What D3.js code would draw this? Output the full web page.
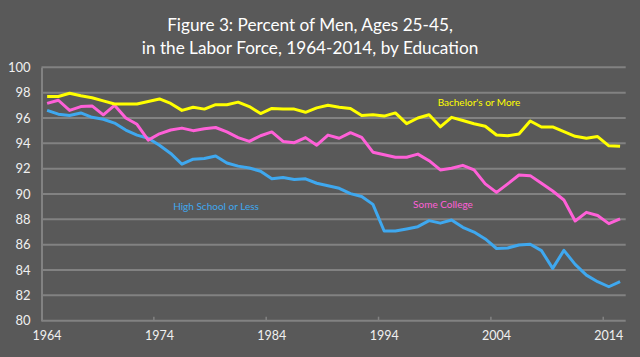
<!DOCTYPE html>
<html>
<head>
<meta charset="utf-8">
<script src="https://cdn.jsdelivr.net/npm/d3@7"></script>
<style>
html,body{margin:0;padding:0;background:#595959;}
svg{display:block;}
</style>
</head>
<body>
<svg id="chart" width="640" height="357"></svg>
<script>
const years = d3.range(1964, 2016);
const tickYears = [1964, 1974, 1984, 1994, 2004, 2014];
const yTicks = [80, 82, 84, 86, 88, 90, 92, 94, 96, 98, 100];
const titleLines = ["Figure 3: Percent of Men, Ages 25-45,", "in the Labor Force, 1964-2014, by Education"];

const bachelors = [97.7,97.7,97.95,97.75,97.6,97.35,97.1,97.1,97.1,97.3,97.5,97.15,96.6,96.85,96.7,97.05,97.05,97.25,96.9,96.35,96.75,96.7,96.7,96.45,96.8,97.0,96.85,96.75,96.2,96.25,96.15,96.4,95.55,96.0,96.25,95.3,96.05,95.8,95.55,95.35,94.66,94.6,94.74,95.76,95.29,95.29,94.92,94.55,94.4,94.53,93.8,93.76];
const someCollege = [97.15,97.4,96.6,96.9,96.95,96.25,97.0,96.0,95.5,94.25,94.75,95.05,95.2,95.0,95.15,95.25,94.9,94.45,94.15,94.6,94.9,94.15,94.05,94.45,93.85,94.65,94.4,94.84,94.47,93.3,93.1,92.9,92.9,93.15,92.63,91.9,92.03,92.26,91.9,90.8,90.13,90.8,91.5,91.45,90.84,90.24,89.53,87.87,88.55,88.3,87.66,88.03];
const highSchool = [96.6,96.3,96.2,96.4,96.05,95.9,95.6,95.05,94.65,94.4,93.85,93.2,92.35,92.75,92.8,93.0,92.45,92.2,92.05,91.8,91.2,91.3,91.15,91.2,90.85,90.65,90.45,90.03,89.8,89.18,87.08,87.08,87.24,87.42,87.9,87.7,87.95,87.37,87.0,86.45,85.7,85.74,85.97,86.03,85.53,84.13,85.55,84.45,83.6,83.08,82.68,83.08];

const seriesNames = ["High School or Less", "Some College", "Bachelor's or More"];
const seriesValues = [highSchool, someCollege, bachelors];
const seriesColors = ["#3fa8ef", "#ff60d8", "#ffff00"];
const labelPos = [[216, 207], [443, 205], [479, 103]];

const svg = d3.select("#chart");
const mLeft = 41.5, mRight = 625.7, mTop = 67.3, mBottom = 320.7;

const x = d3.scaleBand().domain(years).range([mLeft, mRight]).padding(0);
const y = d3.scaleLinear().domain([80, 100]).range([mBottom, mTop]);
const font = "Lato, 'Open Sans', sans-serif";

// gridlines
svg.append("g").selectAll("line").data(yTicks.filter(d => d > 80)).join("line")
  .attr("x1", mLeft).attr("x2", mRight)
  .attr("y1", d => y(d)).attr("y2", d => y(d))
  .attr("stroke", "#828282").attr("stroke-width", 2);

// y axis
const yAxis = d3.axisLeft(y).tickValues(yTicks).tickSize(0).tickPadding(11);
const yg = svg.append("g").attr("transform", `translate(${mLeft},0)`).call(yAxis);
yg.select(".domain").attr("stroke", "#828282").attr("stroke-width", 2);
yg.selectAll("text").attr("fill", "#f0f0f0").style("font-family", font).style("font-size", "13px");

// x axis: ticks at category boundaries, labels at centers
const xg = svg.append("g").attr("transform", `translate(0,${mBottom})`);
xg.append("line").attr("x1", mLeft).attr("x2", mRight).attr("y1", 0).attr("y2", 0)
  .attr("stroke", "#828282").attr("stroke-width", 2);
xg.selectAll(".tk").data(tickYears.filter(d => d > 1964)).join("line").attr("class", "tk")
  .attr("x1", d => x(d)).attr("x2", d => x(d)).attr("y1", 0).attr("y2", -4)
  .attr("stroke", "#828282").attr("stroke-width", 1.5);
xg.selectAll("text").data(tickYears).join("text")
  .attr("x", d => x(d) + x.bandwidth() / 2).attr("y", 19)
  .attr("text-anchor", "middle").attr("fill", "#f0f0f0")
  .style("font-family", font).style("font-size", "12.5px").text(d => d);

// lines
const line = d3.line().x((d, i) => x(years[i]) + x.bandwidth() / 2).y(d => y(d));
seriesValues.forEach((vals, k) => {
  svg.append("path").datum(vals).attr("d", line)
    .attr("fill", "none").attr("stroke", seriesColors[k]).attr("stroke-width", 3)
    .attr("stroke-linejoin", "round");
  svg.append("text").attr("x", labelPos[k][0]).attr("y", labelPos[k][1])
    .attr("text-anchor", "middle").attr("dominant-baseline", "middle")
    .attr("fill", seriesColors[k]).style("font-family", font).style("font-size", "10px")
    .text(seriesNames[k]);
});

// title
svg.selectAll(".title").data(titleLines).join("text").attr("class", "title")
  .attr("x", 310).attr("y", (d, i) => 30.5 + i * 23.5)
  .attr("text-anchor", "middle").attr("fill", "#ffffff")
  .style("font-family", font).style("font-size", "17.2px").text(d => d);
</script>
</body>
</html>
